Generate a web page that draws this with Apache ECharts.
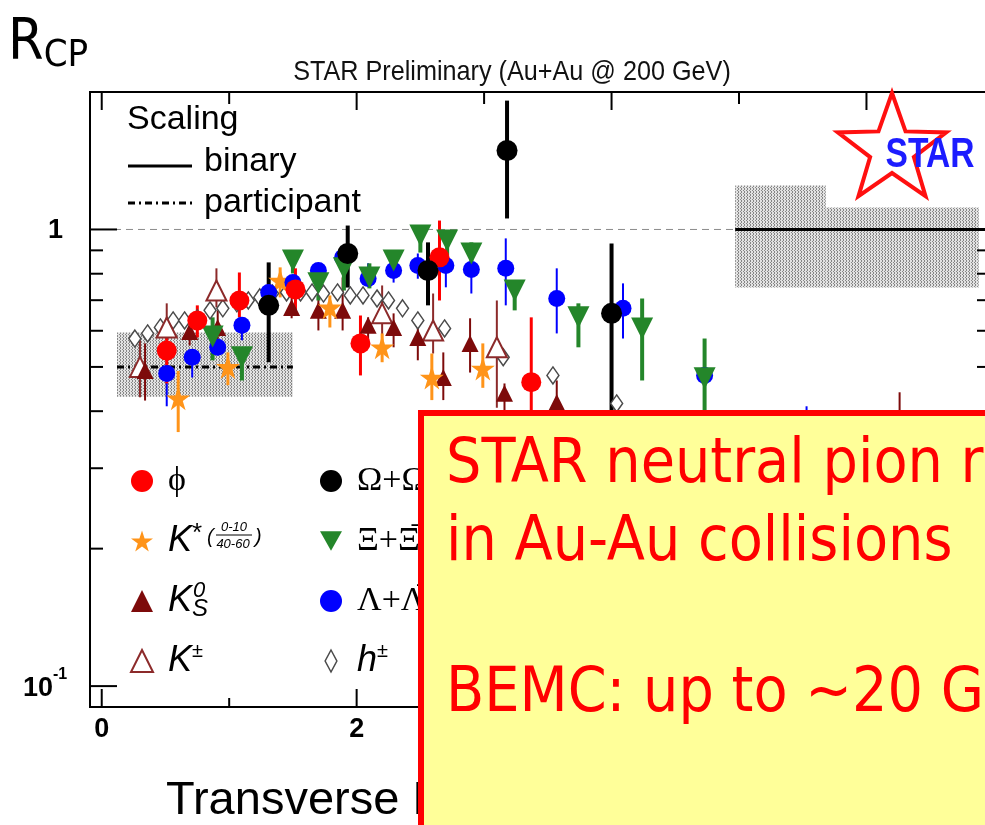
<!DOCTYPE html>
<html><head><meta charset="utf-8">
<script src="https://cdn.jsdelivr.net/npm/echarts@6/dist/echarts.min.js"></script>
<style>html,body{margin:0;padding:0;background:#fff;overflow:hidden}#main{width:985px;height:825px}</style>
</head><body><div id="main"></div>
<script>
// ---------- axis ranges & ticks ----------
const X_MIN = -0.092, X_MAX = 6.93, Y_MIN = 0.09, Y_MAX = 2;
const xMajorTicks = [0, 2, 4, 6];
const xMinorTicks = [1, 3, 5];
const xTickLabels = ['0', '2', '4', '6'];
const yMajorTicks = [0.1, 1];
const yMinorTicks = [0.2, 0.3, 0.4, 0.5, 0.6, 0.7, 0.8, 0.9];

// ---------- data (pT, Rcp, low, high) ----------
const phiX  = [0.51, 0.75, 1.08, 1.52, 2.03, 2.65, 3.37];
const phiY  = [0.543, 0.632, 0.699, 0.739, 0.563, 0.869, 0.463];
const phiLo = [0.46, 0.58, 0.642, 0.655, 0.479, 0.699, 0.33];
const phiHi = [0.61, 0.682, 0.805, 0.822, 0.648, 1.046, 0.642];

const kstarX  = [0.60, 0.99, 1.40, 1.79, 2.20, 2.59, 2.99];
const kstarY  = [0.427, 0.50, 0.773, 0.675, 0.552, 0.474, 0.496];
const kstarLo = [0.36, 0.456, 0.71, 0.61, 0.512, 0.423, 0.45];
const kstarHi = [0.49, 0.538, 0.826, 0.717, 0.592, 0.535, 0.563];

const k0sX  = [0.34, 0.69, 0.91, 1.49, 1.70, 1.89, 2.09, 2.29, 2.48, 2.68, 2.89, 3.16, 3.57, 6.26];
const k0sY  = [0.491, 0.598, 0.61, 0.675, 0.665, 0.665, 0.617, 0.61, 0.58, 0.474, 0.563, 0.438, 0.418, 0.30];
const k0sLo = [0.422, 0.557, 0.572, 0.639, 0.601, 0.601, 0.557, 0.552, 0.517, 0.423, 0.486, 0.38, 0.37, 0.22];
const k0sHi = [0.563, 0.648, 0.665, 0.724, 0.71, 0.785, 0.642, 0.655, 0.642, 0.538, 0.639, 0.46, 0.467, 0.44];

const kpmX  = [0.30, 0.51, 0.90, 2.20, 2.60, 3.10];
const kpmY  = [0.50, 0.61, 0.735, 0.655, 0.601, 0.552];
const kpmLo = [0.429, 0.557, 0.675, 0.572, 0.535, 0.407];
const kpmHi = [0.572, 0.689, 0.822, 0.754, 0.724, 0.699];

const omegaX  = [1.31, 1.93, 2.56, 3.18, 4.00];
const omegaY  = [0.682, 0.886, 0.813, 1.489, 0.655];
const omegaLo = [0.512, 0.746, 0.682, 1.057, 0.30];
const omegaHi = [0.847, 1.02, 0.937, 1.915, 0.932];

const xiX  = [0.87, 1.10, 1.50, 1.70, 1.90, 2.10, 2.29, 2.50, 2.71, 2.90, 3.24, 3.74, 4.24, 4.73];
const xiY  = [0.583, 0.525, 0.855, 0.762, 0.822, 0.785, 0.855, 0.97, 0.946, 0.886, 0.735, 0.642, 0.607, 0.472];
const xiLo = [0.517, 0.467, 0.801, 0.699, 0.735, 0.743, 0.805, 0.89, 0.877, 0.813, 0.665, 0.552, 0.467, 0.40];
const xiHi = [0.642, 0.552, 0.886, 0.785, 0.843, 0.843, 0.886, 1.01, 0.98, 0.937, 0.762, 0.689, 0.706, 0.577];

const lambdaX  = [0.51, 0.71, 0.91, 1.10, 1.31, 1.50, 1.70, 1.89, 2.09, 2.29, 2.48, 2.70, 2.90, 3.17, 3.57, 4.09, 4.73, 5.53];
const lambdaY  = [0.484, 0.525, 0.552, 0.617, 0.728, 0.765, 0.813, 0.868, 0.781, 0.813, 0.834, 0.834, 0.817, 0.822, 0.706, 0.672, 0.479, 0.30];
const lambdaLo = [0.41, 0.474, 0.53, 0.572, 0.706, 0.743, 0.781, 0.843, 0.754, 0.765, 0.78, 0.747, 0.724, 0.682, 0.592, 0.577, 0.43, 0.22];
const lambdaHi = [0.53, 0.543, 0.572, 0.642, 0.747, 0.785, 0.843, 0.90, 0.843, 0.855, 0.886, 0.868, 0.90, 0.956, 0.822, 0.762, 0.53, 0.41];

const hX = [0.26, 0.36, 0.46, 0.56, 0.65, 0.75, 0.85, 0.95, 1.06, 1.15, 1.24, 1.34, 1.45, 1.56, 1.65, 1.74, 1.85, 1.95, 2.05, 2.16, 2.25, 2.36, 2.48, 2.69, 3.15, 3.54, 4.04];
const hY = [0.577, 0.592, 0.610, 0.632, 0.632, 0.639, 0.665, 0.672, 0.689, 0.699, 0.710, 0.724, 0.728, 0.728, 0.728, 0.724, 0.728, 0.717, 0.717, 0.706, 0.699, 0.672, 0.632, 0.607, 0.525, 0.479, 0.416];

// scaling uncertainty bands [x0, x1, y0, y1] and reference levels
const participantBand = [[0.12, 1.50, 0.43, 0.595]];
const binaryBand = [[4.97, 5.68, 0.746, 1.248], [5.68, 6.88, 0.746, 1.117]];
const participantLine = [0.12, 1.50, 0.5];
const binaryLine = [4.97, 7.0, 1.0];
const unityLine = [X_MIN, 7.0, 1.0];

// ---------- helpers ----------
const zip = (a, b) => a.map((v, i) => [v, b[i]]);
const zip3 = (a, b, c) => a.map((v, i) => [v, b[i], c[i]]);

const pat = document.createElement('canvas');
pat.width = 3; pat.height = 3;
(function () {
  const c = pat.getContext('2d');
  c.fillStyle = '#e2e2e2'; c.fillRect(0, 0, 3, 3);
  c.fillStyle = '#868686';
  c.fillRect(0, 0, 1, 1); c.fillRect(0, 2, 1, 1); c.fillRect(2, 1, 1, 1);
})();

function errSeries(name, x, lo, hi, color, width) {
  return {
    name: name, type: 'custom', silent: true, z: 3,
    data: zip3(x, lo, hi),
    encode: { x: 0, y: [1, 2] },
    renderItem: function (p, api) {
      const a = api.coord([api.value(0), api.value(1)]);
      const b = api.coord([api.value(0), api.value(2)]);
      return { type: 'line', shape: { x1: a[0], y1: a[1], x2: b[0], y2: b[1] },
               style: { stroke: color, lineWidth: width } };
    }
  };
}
function bandSeries(name, rows) {
  return {
    name: name, type: 'custom', silent: true, z: 1,
    data: rows,
    encode: { x: [0, 1], y: [2, 3] },
    renderItem: function (p, api) {
      const a = api.coord([api.value(0), api.value(3)]);
      const b = api.coord([api.value(1), api.value(2)]);
      return { type: 'rect', shape: { x: a[0], y: a[1], width: b[0] - a[0], height: b[1] - a[1] },
               style: { fill: { image: pat, repeat: 'repeat' } } };
    }
  };
}
function hLineSeries(name, row, style) {
  return {
    name: name, type: 'custom', silent: true, z: 2,
    data: [row],
    encode: { x: [0, 1], y: 2 },
    renderItem: function (p, api) {
      const a = api.coord([api.value(0), api.value(2)]);
      const b = api.coord([api.value(1), api.value(2)]);
      return { type: 'line', shape: { x1: a[0], y1: a[1], x2: b[0], y2: b[1] }, style: style };
    }
  };
}
function tickSeries(name, vals, axis, len, lenOpp) {
  return {
    name: name, type: 'custom', silent: true, z: 6,
    data: vals.map(v => axis === 'x' ? [v, Y_MIN] : [X_MIN, v]),
    encode: { x: 0, y: 1 },
    renderItem: function (p, api) {
      const st = { stroke: '#000', lineWidth: 2 };
      if (axis === 'x') {
        const v = api.value(0);
        const b = api.coord([v, Y_MIN]), t = api.coord([v, Y_MAX]);
        return { type: 'group', children: [
          { type: 'line', shape: { x1: b[0], y1: b[1], x2: b[0], y2: b[1] - len }, style: st },
          { type: 'line', shape: { x1: t[0], y1: t[1], x2: t[0], y2: t[1] + lenOpp }, style: st }] };
      }
      const v = api.value(1);
      const l = api.coord([X_MIN, v]), r = api.coord([X_MAX, v]);
      return { type: 'group', children: [
        { type: 'line', shape: { x1: l[0], y1: l[1], x2: l[0] + len, y2: l[1] }, style: st },
        { type: 'line', shape: { x1: r[0], y1: r[1], x2: r[0] - lenOpp, y2: r[1] }, style: st }] };
    }
  };
}
const frameSeries = {
  name: 'frame', type: 'custom', silent: true, z: 6,
  data: [[X_MIN, Y_MIN]],
  encode: { x: 0, y: 1 },
  renderItem: function (p, api) {
    const bl = api.coord([X_MIN, Y_MIN]), tl = api.coord([X_MIN, Y_MAX]);
    const br = api.coord([7.0, Y_MIN]), tr = api.coord([7.0, Y_MAX]);
    return { type: 'polyline', shape: { points: [tr, tl, bl, br] }, style: { stroke: '#000', lineWidth: 2, fill: null } };
  }
};

const STAR_PATH = 'path://M50,2 L61.2,36.5 L97.6,36.5 L68.2,57.8 L79.4,92.4 L50,71 L20.6,92.4 L31.8,57.8 L2.4,36.5 L38.8,36.5 Z';
const DOWN_TRI = 'path://M0,0 L100,0 L50,88 Z';

const C = { phi: '#ff0000', kstar: '#ff9419', k0s: '#7d0a0a', kpm: '#8c2a2a', omega: '#000000',
            xi: '#24862a', lambda: '#0000ff', h: '#4a4a4a' };

function markers(name, x, y, symbol, size, style) {
  return { name: name, type: 'scatter', z: 4, data: zip(x, y), symbol: symbol, symbolSize: size,
    itemStyle: Object.assign({ opacity: 1 }, style), emphasis: { disabled: true } };
}

const series = [
  bandSeries('partBand', participantBand),
  bandSeries('binBand', binaryBand),
  hLineSeries('unity', unityLine, { stroke: '#8a8a8a', lineWidth: 1, lineDash: [7, 5] }),
  hLineSeries('partLine', participantLine, { stroke: '#000', lineWidth: 3, lineDash: [7, 4, 2, 4] }),
  hLineSeries('binLine', binaryLine, { stroke: '#000', lineWidth: 3 }),
  frameSeries,
  tickSeries('xMaj', xMajorTicks, 'x', 18, 18),
  tickSeries('xMin', xMinorTicks, 'x', 9, 12),
  tickSeries('yMaj', yMajorTicks, 'y', 27, 12),
  tickSeries('yMin', yMinorTicks, 'y', 13, 8),
  {
    name: 'xLabels', type: 'custom', silent: true, z: 6,
    data: xMajorTicks.map((v, i) => [v, Y_MIN, i]),
    encode: { x: 0, y: 1 },
    renderItem: function (p, api) {
      const a = api.coord([api.value(0), Y_MIN]);
      return { type: 'text', x: a[0], y: a[1] + 23,
        style: { text: xTickLabels[api.value(2)], fill: '#000', align: 'center', verticalAlign: 'middle',
                 font: 'bold 27px "Liberation Sans", Arial, sans-serif' } };
    }
  },
  {
    name: 'yLabels', type: 'custom', silent: true, z: 6,
    data: yMajorTicks.map(v => [X_MIN, v]),
    encode: { x: 0, y: 1 },
    renderItem: function (p, api) {
      const v = api.value(1);
      const a = api.coord([X_MIN, v]);
      const f = 'bold 27px "Liberation Sans", Arial, sans-serif';
      if (v >= 1) {
        return { type: 'text', x: a[0] - 27, y: a[1] + 1,
          style: { text: String(v), fill: '#000', align: 'right', verticalAlign: 'middle', font: f } };
      }
      const e = Math.round(Math.log10(v));
      return { type: 'group', children: [
        { type: 'text', x: a[0] - 37, y: a[1] + 2,
          style: { text: '10', fill: '#000', align: 'right', verticalAlign: 'middle', font: f } },
        { type: 'text', x: a[0] - 37, y: a[1] - 12,
          style: { text: String(e), fill: '#000', align: 'left', verticalAlign: 'middle',
                   font: 'bold 16px "Liberation Sans", Arial, sans-serif' } }] };
    }
  },
  // error bars
  errSeries('e_kpm', kpmX, kpmLo, kpmHi, C.kpm, 2),
  errSeries('e_k0s', k0sX, k0sLo, k0sHi, C.k0s, 2),
  errSeries('e_kstar', kstarX, kstarLo, kstarHi, C.kstar, 3),
  errSeries('e_lambda', lambdaX, lambdaLo, lambdaHi, C.lambda, 2),
  errSeries('e_xi', xiX, xiLo, xiHi, C.xi, 4),
  errSeries('e_phi', phiX, phiLo, phiHi, C.phi, 3),
  errSeries('e_omega', omegaX, omegaLo, omegaHi, C.omega, 4),
  // markers
  markers('h±', hX, hY, 'diamond', [12, 17], { color: '#fff', borderColor: C.h, borderWidth: 1.5 }),
  markers('K±', kpmX, kpmY, 'triangle', 20, { color: '#fff', borderColor: C.kpm, borderWidth: 2 }),
  markers('K0S', k0sX, k0sY, 'triangle', 17, { color: C.k0s, borderWidth: 0 }),
  markers('K*', kstarX, kstarY, STAR_PATH, 24, { color: C.kstar, borderWidth: 0 }),
  markers('Λ', lambdaX, lambdaY, 'circle', 17, { color: C.lambda, borderWidth: 0 }),
  markers('Ξ', xiX, xiY, DOWN_TRI, 22, { color: C.xi, borderWidth: 0 }),
  markers('φ', phiX, phiY, 'circle', 20, { color: C.phi, borderWidth: 0 }),
  markers('Ω', omegaX, omegaY, 'circle', 21, { color: C.omega, borderWidth: 0 })
];

const legendNames = {
  'φ': '{g|}{tm|ϕ}',
  'K*': '{g|}{ki|K}{ks|*}',
  'K0S': '{g|}{ki|K}{sb|S}',
  'K±': '{g|}{ki|K}{sp|±}',
  'Ω': '{g|}{tm|Ω+Ω\u0305}',
  'Ξ': '{g|}{tm|Ξ+Ξ\u0305}',
  'Λ': '{g|}{tm|Λ+Λ\u0305}',
  'h±': '{g|}{ki|h}{sp|±}'
};
const legendText = {
  color: '#000', lineHeight: 40,
  rich: {
    g: { width: 10, lineHeight: 40 },
    tm: { fontFamily: '"Liberation Serif", "Times New Roman", serif', fontSize: 34, lineHeight: 40 },
    ki: { fontFamily: '"Liberation Sans", Arial, sans-serif', fontStyle: 'italic', fontSize: 36, lineHeight: 40 },
    ks: { fontFamily: '"Liberation Sans", Arial, sans-serif', fontSize: 26, lineHeight: 30, verticalAlign: 'top' },
    sp: { fontFamily: '"Liberation Sans", Arial, sans-serif', fontSize: 20, lineHeight: 26, verticalAlign: 'top' },
    sb: { fontFamily: '"Liberation Sans", Arial, sans-serif', fontStyle: 'italic', fontSize: 24, lineHeight: 26, verticalAlign: 'bottom' }
  }
};
function legendCfg(names, left) {
  return {
    orient: 'vertical', left: left, top: 461, padding: 0, itemGap: 20,
    itemWidth: 22, itemHeight: 22, selectedMode: false,
    data: names.map(n => {
      if (n === 'K±') return { name: n, itemStyle: { color: '#fff', borderColor: C.kpm, borderWidth: 2, opacity: 1 } };
      if (n === 'h±') return { name: n, icon: 'path://M50,0 L82,60 L50,120 L18,60 Z',
                               itemStyle: { color: '#fff', borderColor: C.h, borderWidth: 1.5, opacity: 1 } };
      return { name: n, itemStyle: { borderWidth: 0, opacity: 1 } };
    }),
    formatter: n => legendNames[n],
    textStyle: legendText
  };
}

const SANS = '"Liberation Sans", Arial, Helvetica, sans-serif';
const SLIDE = '"DejaVu Sans Condensed", "DejaVu Sans", Tahoma, sans-serif';

function starPoints(cx, cy, R, r) {
  const pts = [];
  for (let i = 0; i < 10; i++) {
    const a = -Math.PI / 2 + i * Math.PI / 5;
    const rad = i % 2 === 0 ? R : r;
    pts.push([cx + rad * Math.cos(a), cy + rad * Math.sin(a)]);
  }
  return pts;
}

const graphic = [
  // slide title R_CP
  { type: 'text', left: 8, top: 16, z: 50,
    style: { text: '{r|R}{s|CP}', fill: '#000',
      rich: { r: { fontFamily: SLIDE, fontSize: 57, lineHeight: 62 },
              s: { fontFamily: SLIDE, fontSize: 38, lineHeight: 36, verticalAlign: 'bottom' } } } },
  // plot title
  { type: 'text', x: 512, y: 72, z: 50, scaleX: 0.9,
    style: { text: 'STAR Preliminary (Au+Au @ 200 GeV)', fill: '#111', align: 'center', verticalAlign: 'middle',
             font: '28px "Liberation Sans", Arial, sans-serif' } },
  // x-axis title
  { type: 'text', x: 166, y: 801, z: 50,
    style: { text: 'Transverse Momentum pT (GeV/c)', fill: '#000', align: 'left', verticalAlign: 'middle',
             font: '47px ' + SANS } },
  // scaling legend
  { type: 'text', x: 127, y: 120, z: 50,
    style: { text: 'Scaling', fill: '#000', verticalAlign: 'middle', font: '34px ' + SANS } },
  { type: 'line', z: 50, shape: { x1: 128, y1: 166, x2: 192, y2: 166 }, style: { stroke: '#000', lineWidth: 3 } },
  { type: 'text', x: 204, y: 162, z: 50,
    style: { text: 'binary', fill: '#000', verticalAlign: 'middle', font: '34px ' + SANS } },
  { type: 'line', z: 50, shape: { x1: 128, y1: 203, x2: 192, y2: 203 }, style: { stroke: '#000', lineWidth: 3, lineDash: [7, 4, 2, 4] } },
  { type: 'text', x: 204, y: 203, z: 50,
    style: { text: 'participant', fill: '#000', verticalAlign: 'middle', font: '34px ' + SANS } },
  // legend extras: K* centrality fraction and K0S superscript
  { type: 'text', x: 207, y: 537, z: 50,
    style: { text: '(', fill: '#000', verticalAlign: 'middle', font: 'italic 20px ' + SANS } },
  { type: 'text', x: 234, y: 527, z: 50,
    style: { text: '0-10', fill: '#000', align: 'center', verticalAlign: 'middle', font: 'italic 13px ' + SANS } },
  { type: 'line', z: 50, shape: { x1: 216, y1: 535, x2: 252, y2: 535 }, style: { stroke: '#000', lineWidth: 1 } },
  { type: 'text', x: 233, y: 544, z: 50,
    style: { text: '40-60', fill: '#000', align: 'center', verticalAlign: 'middle', font: 'italic 13px ' + SANS } },
  { type: 'text', x: 255, y: 537, z: 50,
    style: { text: ')', fill: '#000', verticalAlign: 'middle', font: 'italic 20px ' + SANS } },
  { type: 'text', x: 193, y: 591, z: 50,
    style: { text: '0', fill: '#000', verticalAlign: 'middle', font: 'italic 22px ' + SANS } },
  // STAR logo
  { type: 'polygon', z: 50, shape: { points: starPoints(892, 150, 57, 23) },
    style: { fill: 'rgba(255,255,255,0)', stroke: '#ff1010', lineWidth: 4, lineJoin: 'miter' } },
  { type: 'text', x: 930, y: 155, z: 51, scaleX: 0.8,
    style: { text: 'STAR', fill: '#1c1cff', align: 'center', verticalAlign: 'middle',
             font: 'bold 42px "Liberation Sans", Arial, sans-serif' } },
  // overlay note box
  { type: 'rect', z: 100, shape: { x: 421, y: 413, width: 620, height: 480 },
    style: { fill: '#ffff99', stroke: '#ff0000', lineWidth: 6 } },
  { type: 'text', x: 446, y: 466, z: 101,
    style: { text: 'STAR neutral pion results', fill: '#ff0000', verticalAlign: 'middle', font: '62px ' + SLIDE } },
  { type: 'text', x: 446, y: 544, z: 101,
    style: { text: 'in Au-Au collisions', fill: '#ff0000', verticalAlign: 'middle', font: '62px ' + SLIDE } },
  { type: 'text', x: 446, y: 695, z: 101,
    style: { text: 'BEMC: up to ~20 GeV/c', fill: '#ff0000', verticalAlign: 'middle', font: '62px ' + SLIDE } }
];

const option = {
  animation: false,
  backgroundColor: '#fff',
  grid: { left: 90, top: 92, right: 0, bottom: 118, show: false },
  xAxis: { type: 'value', min: X_MIN, max: X_MAX,
    axisLine: { show: false }, axisTick: { show: false }, axisLabel: { show: false }, splitLine: { show: false } },
  yAxis: { type: 'log', logBase: 10, min: Y_MIN, max: Y_MAX,
    axisLine: { show: false }, axisTick: { show: false }, axisLabel: { show: false }, splitLine: { show: false },
    minorTick: { show: false }, minorSplitLine: { show: false } },
  legend: [legendCfg(['φ', 'K*', 'K0S', 'K±'], 130), legendCfg(['Ω', 'Ξ', 'Λ', 'h±'], 320)],
  series: series,
  graphic: graphic
};

const chart = echarts.init(document.getElementById('main'), null, { renderer: 'canvas' });
chart.setOption(option);
</script></body></html>
